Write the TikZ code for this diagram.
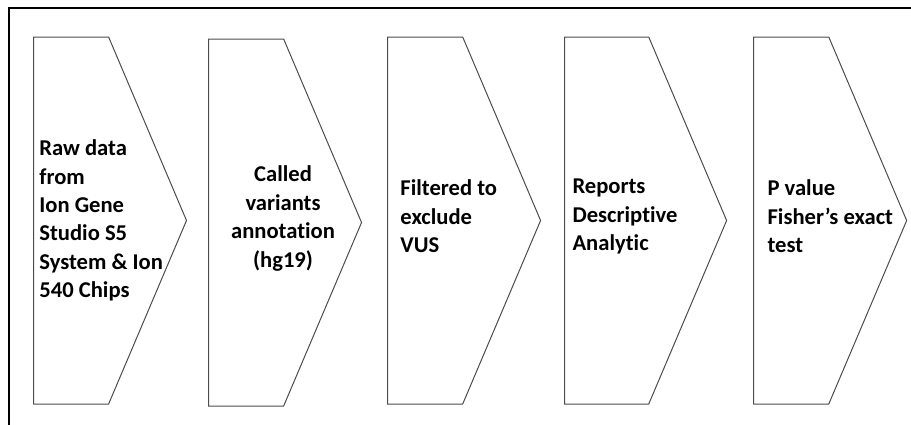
\documentclass[tikz,border=0pt]{standalone}
\usepackage{fontspec}
\setmainfont{Carlito}[Ligatures={TeX,NoCommon}]
\usetikzlibrary{positioning,shapes.symbols}

\begin{document}
\begin{tikzpicture}[x=0.5pt,y=-0.5pt,
	step node/.style={signal,signal to=east,signal from=nowhere,draw=black!70,line width=.5pt,
		signal pointer angle=134,minimum height=183.5pt,minimum width=76.5pt,inner sep=0pt},
	step text/.style={inner sep=0pt,align=left,
		font=\bfseries\fontsize{11.3}{14.2}\selectfont}]

    \useasboundingbox (0,0) rectangle (911,424);
    \draw[line width=1pt] (9,8) rectangle (940,450);

    \node[step node,anchor=west] (s1) at (33,220.5) {};
    \node[step node] (s2) [right=10.5pt of s1,yshift=-1pt] {};
    \node[step node] (s3) [right=12.5pt of s2,yshift=1pt] {};
    \node[step node,minimum width=81pt] (s4) [right=11.5pt of s3] {};
    \node[step node] (s5) [right=13pt of s4] {};

    \node[step text] (t1) [right=3pt of s1.west]
	{Raw data\\from\\Ion Gene\\Studio S5\\System \& Ion\\540 Chips};
    \node[step text,align=center] (t2) at (s2.west) [xshift=37.5pt,yshift=2pt]
	{Called\\variants\\annotation\\(hg19)};
    \node[step text] (t3) [right=6.5pt of s3.west,yshift=2pt]
	{Filtered to\\exclude\\VUS};
    \node[step text] (t4) [right=4pt of s4.west,yshift=2pt]
	{Reports\\Descriptive\\Analytic};
    \node[step text] (t5) [right=7pt of s5.west,yshift=2pt]
	{P value\\Fisher’s exact\\test};

\end{tikzpicture}
\end{document}
